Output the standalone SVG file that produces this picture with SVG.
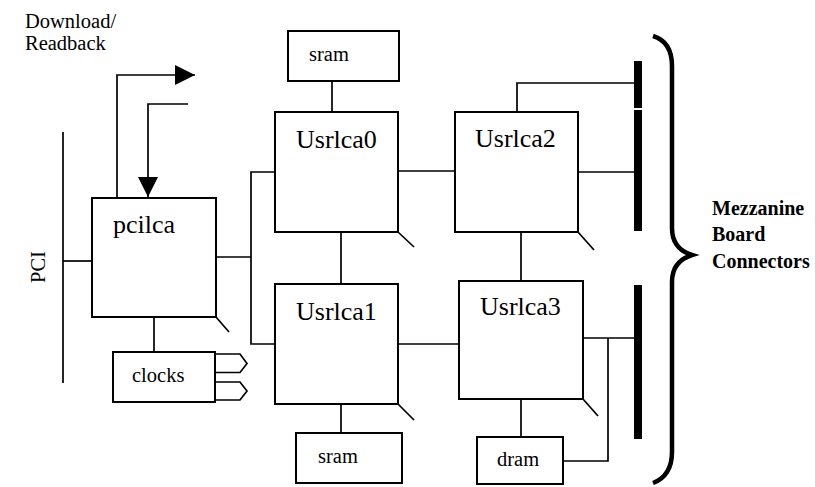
<svg xmlns="http://www.w3.org/2000/svg" width="815" height="487" viewBox="0 0 815 487">
  <style>
    .box { fill: #fff; stroke: #000; stroke-width: 2; }
    .wire { fill: none; stroke: #000; stroke-width: 1.7; }
    .tick { fill: none; stroke: #000; stroke-width: 1.7; }
    .bar { fill: #000; }
    .big { font-size: 26px; fill: #000; }
    .small { font-size: 20.5px; fill: #000; }
    .bold { font-size: 20px; font-weight: bold; fill: #000; }
  </style>
  <defs>
    <marker id="arrow" viewBox="0 0 20 20" refX="20" refY="10" markerWidth="20" markerHeight="20" markerUnits="userSpaceOnUse" orient="auto">
      <path d="M0,0 L20,10 L0,20 Z" fill="#000"/>
    </marker>
  </defs>

  <rect width="815" height="487" fill="#fff"/>

  <!-- connectors -->
  <g id="connectors">
    <!-- PCI bus -->
    <line class="wire" x1="63" y1="132" x2="63" y2="383" stroke-width="2"/>
    <line class="wire" x1="63" y1="261" x2="92" y2="261"/>
    <!-- download / readback -->
    <polyline class="wire" points="117,198 117,75 195,75" stroke-width="2" marker-end="url(#arrow)"/>
    <polyline class="wire" points="188,104 148,104 148,197" stroke-width="2" marker-end="url(#arrow)"/>
    <!-- pcilca to user lca bus -->
    <line class="wire" x1="216" y1="257" x2="251" y2="257"/>
    <polyline class="wire" points="275,172 251,172 251,344 275,344"/>
    <!-- pcilca to clocks -->
    <line class="wire" x1="154" y1="317" x2="154" y2="352"/>
    <!-- sram to Usrlca0 -->
    <line class="wire" x1="332" y1="81" x2="332" y2="112" stroke-width="2.6"/>
    <!-- Usrlca0 links -->
    <line class="wire" x1="398" y1="171" x2="455" y2="171"/>
    <line class="wire" x1="341" y1="232" x2="341" y2="284"/>
    <!-- Usrlca1 links -->
    <line class="wire" x1="398" y1="344" x2="459" y2="344"/>
    <line class="wire" x1="341" y1="404" x2="341" y2="433"/>
    <!-- Usrlca2 links -->
    <polyline class="wire" points="517,112 517,83 634,83"/>
    <line class="wire" x1="578" y1="172" x2="634" y2="172"/>
    <line class="wire" x1="521" y1="232" x2="521" y2="281"/>
    <!-- Usrlca3 links -->
    <line class="wire" x1="583" y1="338" x2="634" y2="338"/>
    <polyline class="wire" points="608,338 608,461 563,461"/>
    <line class="wire" x1="521" y1="399" x2="521" y2="437"/>
  </g>

  <!-- connector bars -->
  <g id="mezzanine-bars">
    <rect class="bar" x="634" y="61" width="8" height="47"/>
    <rect class="bar" x="634" y="110" width="8" height="121"/>
    <rect class="bar" x="634" y="285" width="8" height="154"/>
  </g>

  <g id="pcilca">
    <rect class="box" x="92" y="198" width="124" height="119"/>
    <line class="tick" x1="216" y1="317" x2="229" y2="332"/>
    <text class="big" x="113" y="233" font-family="Liberation Serif, serif">pcilca</text>
  </g>

  <g id="clocks">
    <rect class="box" x="113" y="352" width="102" height="50"/>
    <polyline class="wire" points="215,354 240,354 247,363.5 240,372.5 215,372.5" stroke-width="2"/>
    <polyline class="wire" points="215,382 240,382 247,391 240,400 215,400" stroke-width="2"/>
    <text class="small" x="132" y="382" font-family="Liberation Serif, serif">clocks</text>
  </g>

  <g id="sram0">
    <rect class="box" x="288" y="31" width="111" height="50"/>
    <text class="small" x="309" y="61" font-family="Liberation Serif, serif">sram</text>
  </g>

  <g id="usrlca0">
    <rect class="box" x="275" y="112" width="123" height="120"/>
    <line class="tick" x1="398" y1="232" x2="414" y2="247"/>
    <text class="big" x="296" y="148" font-family="Liberation Serif, serif">Usrlca0</text>
  </g>

  <g id="usrlca1">
    <rect class="box" x="275" y="284" width="123" height="120"/>
    <line class="tick" x1="398" y1="404" x2="414" y2="420"/>
    <text class="big" x="296" y="320" font-family="Liberation Serif, serif">Usrlca1</text>
  </g>

  <g id="usrlca2">
    <rect class="box" x="455" y="112" width="123" height="120"/>
    <line class="tick" x1="578" y1="232" x2="594" y2="250"/>
    <text class="big" x="475" y="147" font-family="Liberation Serif, serif">Usrlca2</text>
  </g>

  <g id="usrlca3">
    <rect class="box" x="459" y="281" width="124" height="118"/>
    <line class="tick" x1="583" y1="399" x2="598" y2="416"/>
    <text class="big" x="480" y="315" font-family="Liberation Serif, serif">Usrlca3</text>
  </g>

  <g id="sram1">
    <rect class="box" x="296" y="433" width="106" height="50"/>
    <text class="small" x="318" y="463" font-family="Liberation Serif, serif">sram</text>
  </g>

  <g id="dram">
    <rect class="box" x="477" y="437" width="86" height="47"/>
    <text class="small" x="497" y="466" font-family="Liberation Serif, serif">dram</text>
  </g>

  <!-- labels -->
  <g id="labels">
    <text class="small" x="25" y="28" font-family="Liberation Serif, serif">Download/</text>
    <text class="small" x="25" y="50" font-family="Liberation Serif, serif">Readback</text>
    <text class="small" transform="translate(45,267) rotate(-90)" text-anchor="middle" font-family="Liberation Serif, serif">PCI</text>
    <path d="M653,36 C666,40 672,50 672,66 L672,228 C672,243 679,251 692,255 C679,259 672,267 672,282 L672,452 C672,468 666,478 653,483" fill="none" stroke="#000" stroke-width="4.5"/>
    <text class="bold" x="712" y="215" font-family="Liberation Serif, serif">Mezzanine</text>
    <text class="bold" x="712" y="241" font-family="Liberation Serif, serif">Board</text>
    <text class="bold" x="712" y="268" font-family="Liberation Serif, serif">Connectors</text>
  </g>
</svg>
